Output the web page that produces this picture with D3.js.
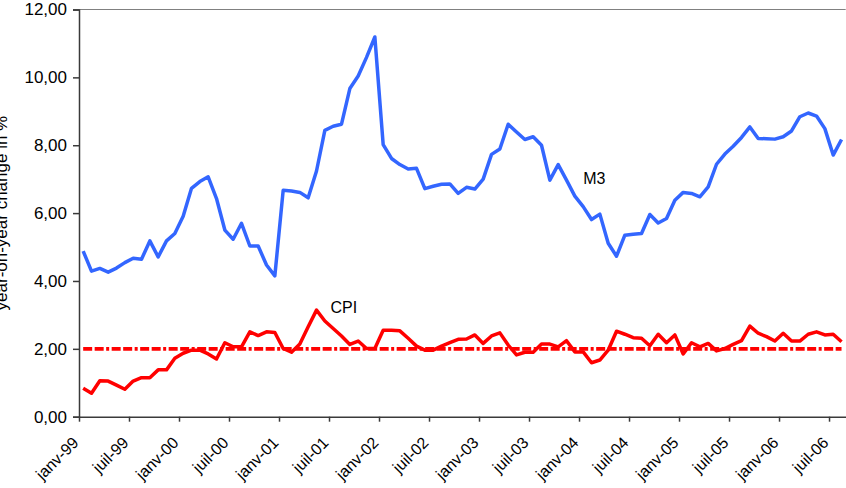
<!DOCTYPE html>
<html>
<head>
<meta charset="utf-8">
<script src="https://cdn.jsdelivr.net/npm/d3@7"></script>
<style>
  html, body { margin: 0; padding: 0; background: #fff; }
  svg { display: block; font-family: "Liberation Sans", Arial, sans-serif; }
</style>
</head>
<body>
<svg id="chart" width="846" height="488"></svg>
<script>
// monthly, janv-99 .. août-06
var n_months = 92

var tick_labels = ['janv-99', 'juil-99', 'janv-00', 'juil-00', 'janv-01', 'juil-01', 'janv-02', 'juil-02',
    'janv-03', 'juil-03', 'janv-04', 'juil-04', 'janv-05', 'juil-05', 'janv-06', 'juil-06']

var y_ticks = [0, 2, 4, 6, 8, 10, 12]

var m3 = [4.88, 4.29, 4.37, 4.26, 4.38, 4.54, 4.67, 4.64, 5.18, 4.71, 5.18, 5.40,
    5.91, 6.73, 6.93, 7.07, 6.43, 5.50, 5.23, 5.70, 5.03, 5.03, 4.47, 4.15,
    6.67, 6.65, 6.61, 6.45, 7.24, 8.44, 8.56, 8.62, 9.67, 10.04, 10.59, 11.19,
    8.02, 7.61, 7.43, 7.30, 7.32, 6.72, 6.79, 6.85, 6.86, 6.58, 6.76, 6.71,
    7.00, 7.73, 7.89, 8.62, 8.39, 8.17, 8.25, 8.00, 6.97, 7.43, 6.97, 6.50,
    6.19, 5.81, 5.97, 5.11, 4.73, 5.35, 5.38, 5.40, 5.96, 5.71, 5.84, 6.38,
    6.61, 6.58, 6.48, 6.77, 7.44, 7.74, 7.97, 8.23, 8.54, 8.20, 8.19, 8.18,
    8.25, 8.42, 8.84, 8.95, 8.86, 8.49, 7.71, 8.17]

var cpi = [0.84, 0.69, 1.06, 1.05, 0.93, 0.81, 1.05, 1.15, 1.15, 1.38, 1.38, 1.72,
    1.87, 1.96, 1.96, 1.85, 1.70, 2.18, 2.06, 2.06, 2.50, 2.39, 2.50, 2.48,
    2.01, 1.90, 2.14, 2.65, 3.14, 2.82, 2.60, 2.38, 2.13, 2.23, 2.01, 2.01,
    2.55, 2.55, 2.53, 2.31, 2.08, 1.96, 1.96, 2.08, 2.18, 2.28, 2.29, 2.41,
    2.16, 2.38, 2.47, 2.11, 1.82, 1.90, 1.90, 2.14, 2.14, 2.06, 2.24, 1.91,
    1.91, 1.59, 1.67, 1.96, 2.52, 2.43, 2.33, 2.31, 2.09, 2.43, 2.18, 2.41,
    1.85, 2.18, 2.06, 2.16, 1.94, 2.01, 2.13, 2.24, 2.67, 2.46, 2.36, 2.23,
    2.46, 2.23, 2.23, 2.43, 2.50, 2.41, 2.43, 2.21]

var target = 2.0

// layout
var plot_left = 79
var plot_right = 845.7
var plot_top = 9.5
var plot_bottom = 416.7

var blue = '#3366ff'
var red = '#ff0000'
var text_color = '#000'
var axis_color = '#3a3a3a'

var svg = d3.select('#chart')

// category index -> x, points sit in the middle of each category
var x = d3.scaleLinear().domain([0, n_months]).range([plot_left, plot_right])
var y = d3.scaleLinear().domain([0, 12]).range([plot_bottom, plot_top])

// top border of plot area
svg.append('line')
    .attr('x1', plot_left).attr('x2', plot_right)
    .attr('y1', plot_top).attr('y2', plot_top)
    .attr('stroke', '#808080').attr('stroke-width', 1)

// y axis
var y_axis = svg.append('g')
    .attr('transform', `translate(${plot_left},0)`)
    .call(d3.axisLeft(y)
        .tickValues(y_ticks)
        .tickSize(6)
        .tickPadding(6)
        .tickFormat(d => d3.format('.2f')(d).replace('.', ',')))
y_axis.select('.domain').attr('stroke', axis_color).attr('stroke-width', 1.5)
y_axis.selectAll('.tick line').attr('stroke', axis_color).attr('stroke-width', 1.5)
y_axis.selectAll('.tick text')
    .attr('fill', text_color)
    .style('font-size', '17px')
    .style('font-family', '"Liberation Sans", Arial, sans-serif')

// x axis, ticks between categories every 6 months
var x_axis = svg.append('g')
    .attr('transform', `translate(0,${plot_bottom})`)
    .call(d3.axisBottom(x)
        .tickValues(tick_labels.map((d, i) => i * 6))
        .tickSizeInner(5)
        .tickSizeOuter(0)
        .tickFormat((d, i) => tick_labels[i]))
x_axis.select('.domain').attr('stroke', axis_color).attr('stroke-width', 1.5)
x_axis.selectAll('.tick line').attr('stroke', axis_color).attr('stroke-width', 1.5)
x_axis.selectAll('.tick text')
    .attr('fill', text_color)
    .style('font-size', '16px')
    .style('font-family', '"Liberation Sans", Arial, sans-serif')
    .attr('text-anchor', 'end')
    .attr('dy', 0)
    .attr('y', 0)
    .attr('transform', 'translate(0,27) rotate(-45)')

// y axis title, partly clipped at the left edge as in the source
svg.append('text')
    .attr('transform', `translate(6.5,${y(6)}) rotate(-90)`)
    .attr('text-anchor', 'middle')
    .attr('fill', text_color)
    .style('font-size', '17px')
    .text('year-on-year change in %')

var line = d3.line()
    .x((d, i) => x(i + 0.5))
    .y(d => y(d))

// 2% reference line
svg.append('path')
    .datum(m3.map(() => target))
    .attr('d', line)
    .attr('fill', 'none')
    .attr('stroke', red)
    .attr('stroke-width', 3.8)
    .attr('stroke-dasharray', '9,2.5,9,2.5,3,2.5')

svg.append('path')
    .datum(cpi)
    .attr('d', line)
    .attr('fill', 'none')
    .attr('stroke', red)
    .attr('stroke-width', 3.5)
    .attr('stroke-linejoin', 'round')

svg.append('path')
    .datum(m3)
    .attr('d', line)
    .attr('fill', 'none')
    .attr('stroke', blue)
    .attr('stroke-width', 3.5)
    .attr('stroke-linejoin', 'round')

// series labels
svg.append('text')
    .attr('x', x(60.5)).attr('y', y(6.85))
    .attr('fill', text_color)
    .style('font-size', '16px')
    .text('M3')

svg.append('text')
    .attr('x', x(28.5) + 14).attr('y', y(3.05))
    .attr('fill', text_color)
    .style('font-size', '16px')
    .text('CPI')
</script>
</body>
</html>
